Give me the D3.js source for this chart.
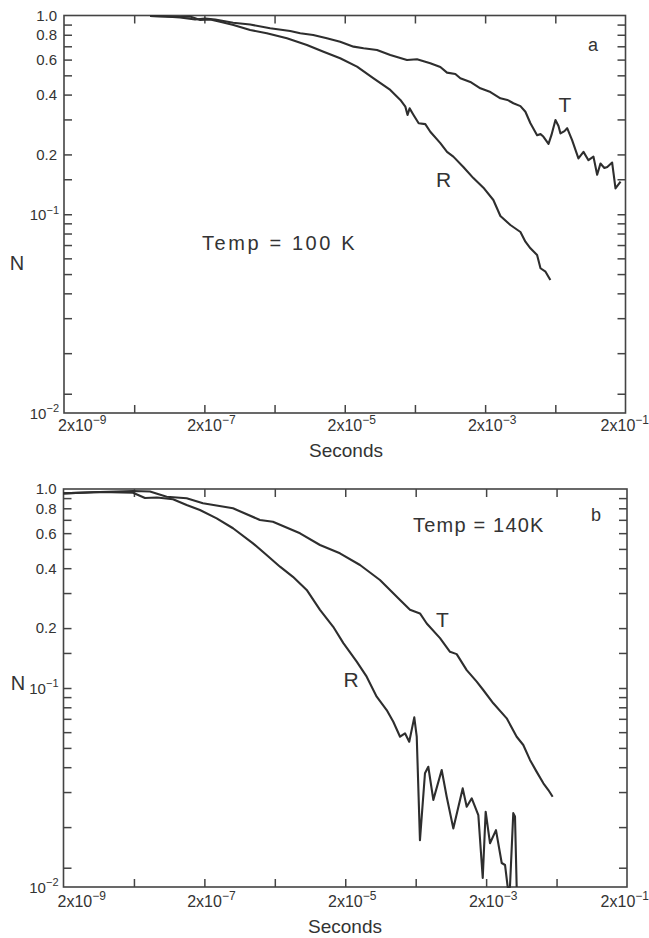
<!DOCTYPE html>
<html><head><meta charset="utf-8">
<script src="https://cdn.jsdelivr.net/npm/d3@7"></script>
<style>
body{margin:0;background:#fff;}
svg{display:block;}
text{font-family:"Liberation Sans",Arial,sans-serif;fill:#333;}
</style>
</head><body>
<svg id="chart" width="649" height="938"></svg>
<script>
// ---------- data ----------
const xTickValues = [2e-8, 2e-7, 2e-6, 2e-5, 2e-4, 2e-3, 2e-2];
const xLabelValues = [2e-9, 2e-7, 2e-5, 2e-3, 2e-1];
const yTickValues = [0.9, 0.8, 0.7, 0.6, 0.5, 0.4, 0.3, 0.2, 0.15, 0.1,
                     0.09, 0.08, 0.07, 0.06, 0.05, 0.04, 0.03, 0.02, 0.0125];
const yDecimalLabels = [1.0, 0.8, 0.6, 0.4, 0.2];
const yPowerLabels = [0.1, 0.01];

// Panel a, Temp = 100 K : [seconds, N]
const panelA_T = [
  [3.37e-8,0.994],[5.51e-8,0.989],[9.02e-8,0.977],[1.48e-7,0.955],[2.05e-7,0.966],
  [2.85e-7,0.955],[5.14e-7,0.920],[8.98e-7,0.901],[1.73e-6,0.862],[3.34e-6,0.836],
  [4.64e-6,0.814],[7.11e-6,0.798],[1.11e-5,0.768],[1.72e-5,0.738],[2.67e-5,0.697],
  [3.71e-5,0.684],[5.76e-5,0.671],[8.91e-5,0.633],[1.54e-4,0.597],[2.14e-4,0.602],
  [3.31e-4,0.575],[4.60e-4,0.551],[5.73e-4,0.516],[7.53e-4,0.508],[8.87e-4,0.483],
  [1.23e-3,0.463],[1.71e-3,0.430],[2.38e-3,0.412],[3.30e-3,0.383],[4.15e-3,0.376],
  [5.06e-3,0.362],[6.37e-3,0.350],[7.50e-3,0.328],[8.84e-3,0.287],[1.10e-2,0.250],
  [1.23e-2,0.253],[1.35e-2,0.246],[1.60e-2,0.226],[1.76e-2,0.250],[2.01e-2,0.298],
  [2.22e-2,0.278],[2.37e-2,0.255],[2.70e-2,0.262],[2.95e-2,0.271],[3.47e-2,0.236],
  [4.27e-2,0.191],[5.04e-2,0.206],[5.93e-2,0.187],[6.99e-2,0.195],[7.89e-2,0.158],
  [8.80e-2,0.180],[0.100,0.171],[0.110,0.173],[0.129,0.182],[0.135,0.161],
  [0.144,0.135],[0.170,0.146]
];
const panelA_R = [
  [3.37e-8,0.994],[5.51e-8,0.989],[9.02e-8,0.983],[1.25e-7,0.989],[1.74e-7,0.949],
  [2.42e-7,0.955],[3.35e-7,0.931],[5.19e-7,0.896],[8.98e-7,0.845],[1.55e-6,0.814],
  [3.00e-6,0.768],[5.78e-6,0.711],[9.97e-6,0.657],[1.72e-5,0.609],[2.99e-5,0.553],
  [5.15e-5,0.483],[8.91e-5,0.422],[1.24e-4,0.376],[1.46e-4,0.348],[1.57e-4,0.316],
  [1.68e-4,0.341],[1.91e-4,0.316],[2.26e-4,0.287],[2.81e-4,0.284],[3.31e-4,0.260],
  [4.60e-4,0.228],[5.73e-4,0.206],[7.05e-4,0.195],[9.79e-4,0.173],[1.36e-3,0.152],
  [1.89e-3,0.136],[2.62e-3,0.118],[3.30e-3,0.098],[4.58e-3,0.0883],[6.37e-3,0.0814],
  [7.50e-3,0.0728],[8.84e-3,0.0674],[1.10e-2,0.0624],[1.23e-2,0.0535],[1.45e-2,0.0514],
  [1.70e-2,0.0467]
];

// Panel b, Temp = 140 K : [seconds, N]
const panelB_T = [
  [2.00e-9,0.951],[6.60e-9,0.966],[1.94e-8,0.977],[3.38e-8,0.971],[5.83e-8,0.915],
  [1.12e-7,0.898],[1.91e-7,0.848],[5.10e-7,0.800],[1.23e-6,0.699],[1.88e-6,0.685],
  [4.56e-6,0.599],[8.76e-6,0.523],[1.68e-5,0.475],[3.24e-5,0.415],[6.22e-5,0.349],
  [1.20e-4,0.277],[1.66e-4,0.247],[2.30e-4,0.237],[2.87e-4,0.211],[4.43e-4,0.178],
  [6.14e-4,0.152],[7.64e-4,0.148],[1.06e-3,0.123],[1.47e-3,0.1076],[1.82e-3,0.0977],
  [2.53e-3,0.0838],[3.92e-3,0.0704],[5.43e-3,0.0569],[6.74e-3,0.0517],[8.39e-3,0.0435],
  [1.04e-2,0.0380],[1.30e-2,0.0332],[1.53e-2,0.0307],[1.76e-2,0.0284]
];
const panelB_R = [
  [2.00e-9,0.951],[6.60e-9,0.966],[1.94e-8,0.958],[2.87e-8,0.901],[4.25e-8,0.906],
  [7.17e-8,0.888],[1.12e-7,0.831],[1.73e-7,0.784],[2.99e-7,0.712],[5.10e-7,0.635],
  [9.80e-7,0.533],[1.53e-6,0.466],[2.37e-6,0.407],[3.62e-6,0.362],[5.67e-6,0.311],
  [8.76e-6,0.247],[1.35e-5,0.203],[1.88e-5,0.168],[2.91e-5,0.1356],[4.03e-5,0.114],
  [5.59e-5,0.0904],[7.75e-5,0.0775],[9.62e-5,0.0677],[1.20e-4,0.0569],[1.41e-4,0.0592],
  [1.62e-4,0.0537],[1.91e-4,0.0712],[2.07e-4,0.0569],[2.30e-4,0.0172],[2.71e-4,0.0373],
  [3.02e-4,0.0402],[3.56e-4,0.0274],[4.68e-4,0.0387],[5.51e-4,0.0284],[6.84e-4,0.0197],
  [9.30e-4,0.0313],[1.06e-3,0.0253],[1.25e-3,0.0279],[1.55e-3,0.0230],[1.79e-3,0.0111],
  [1.97e-3,0.0239],[2.27e-3,0.0166],[2.76e-3,0.0193],[3.33e-3,0.0132],[3.71e-3,0.0129],
  [4.05e-3,0.0100],[4.36e-3,0.0100],[4.86e-3,0.0235],[5.14e-3,0.0226],[5.43e-3,0.0100]
];

// ---------- drawing ----------
const svg = d3.select("#chart");
const INK = "#2e2e2e";

const panels = [
  { left:64, right:625.5, top:15.5, bottom:413, T:panelA_T, R:panelA_R,
    tempText:"Temp = 100 K", tempX:202, tempY:249.5, tempAnchor:"start", tempSpacing:2.6,
    letter:"a", letterX:593, letterY:51,
    tX:565, tY:111.5, rX:443.5, rY:186.5,
    nX:17, nY:270, xLabY:430.5, secX:346, secY:457 },
  { left:63.5, right:627, top:489, bottom:887, T:panelB_T, R:panelB_R,
    tempText:"Temp = 140K", tempX:413, tempY:531.5, tempAnchor:"start", tempSpacing:1.2,
    letter:"b", letterX:596, letterY:520.5,
    tX:442.5, tY:627, rX:351, rY:686.5,
    nX:18, nY:690, xLabY:907, secX:345, secY:933 }
];

function supLabel(sel, base, exp, baseSize, supSize) {
  sel.append("tspan").attr("font-size", baseSize).text(base);
  sel.append("tspan").attr("font-size", supSize).attr("dy", -baseSize*0.42).text(exp);
}

panels.forEach(p => {
  const x = d3.scaleLog().domain([2e-9, 2e-1]).range([p.left, p.right]);
  const y = d3.scaleLog().domain([0.01, 1]).range([p.bottom, p.top]);
  const g = svg.append("g");

  // inward ticks on all four sides
  const tl = 8;
  g.append("g").attr("transform", `translate(${p.left},0)`)
    .call(d3.axisLeft(y).tickValues(yTickValues).tickSizeInner(-tl).tickSizeOuter(0).tickFormat(""));
  g.append("g").attr("transform", `translate(${p.right},0)`)
    .call(d3.axisRight(y).tickValues(yTickValues).tickSizeInner(-tl).tickSizeOuter(0).tickFormat(""));
  g.append("g").attr("transform", `translate(0,${p.top})`)
    .call(d3.axisTop(x).tickValues(xTickValues).tickSizeInner(-tl).tickSizeOuter(0).tickFormat(""));
  g.append("g").attr("transform", `translate(0,${p.bottom})`)
    .call(d3.axisBottom(x).tickValues(xTickValues).tickSizeInner(-tl).tickSizeOuter(0).tickFormat(""));
  g.selectAll(".domain").remove();
  g.selectAll(".tick line").attr("stroke", "#444").attr("stroke-width", 1.5);

  // frame
  g.append("rect").attr("x", p.left).attr("y", p.top)
    .attr("width", p.right - p.left).attr("height", p.bottom - p.top)
    .attr("fill", "none").attr("stroke", "#444").attr("stroke-width", 1.6);

  // y tick labels
  yDecimalLabels.forEach(v => {
    g.append("text").attr("x", p.left - 7).attr("y", y(v)).attr("dy", "0.36em")
      .attr("text-anchor", "end").attr("font-size", 15).text(v.toFixed(1));
  });
  yPowerLabels.forEach(v => {
    const t = g.append("text").attr("x", p.left - 5).attr("y", y(v)).attr("dy", "0.36em")
      .attr("text-anchor", "end");
    supLabel(t, "10", "\u2212" + Math.round(-Math.log10(v)), 15, 11);
  });

  // x tick labels
  xLabelValues.forEach((v, i) => {
    const ex = Math.round(Math.log10(v / 2));
    let anchor = "middle", xx = x(v) + 7;
    if (i === 0) { anchor = "start"; xx = x(v) - 6; }
    if (i === xLabelValues.length - 1) { anchor = "end"; xx = 649; }
    const t = g.append("text").attr("x", xx).attr("y", p.xLabY).attr("text-anchor", anchor);
    supLabel(t, "2x10", "\u2212" + Math.abs(ex), 16, 12);
  });

  // curves
  const line = d3.line().x(d => x(d[0])).y(d => y(d[1]));
  [p.T, p.R].forEach(s => {
    g.append("path").datum(s).attr("d", line)
      .attr("fill", "none").attr("stroke", INK).attr("stroke-width", 2.1)
      .attr("stroke-linejoin", "round");
  });

  // annotations
  g.append("text").attr("x", p.tempX).attr("y", p.tempY).attr("font-size", 20)
    .attr("letter-spacing", p.tempSpacing).attr("text-anchor", p.tempAnchor).text(p.tempText);
  g.append("text").attr("x", p.letterX).attr("y", p.letterY).attr("font-size", 18)
    .attr("text-anchor", "middle").text(p.letter);
  g.append("text").attr("x", p.tX).attr("y", p.tY).attr("font-size", 21)
    .attr("text-anchor", "middle").text("T");
  g.append("text").attr("x", p.rX).attr("y", p.rY).attr("font-size", 21)
    .attr("text-anchor", "middle").text("R");
  g.append("text").attr("x", p.nX).attr("y", p.nY).attr("font-size", 20)
    .attr("text-anchor", "middle").text("N");
  g.append("text").attr("x", p.secX).attr("y", p.secY).attr("font-size", 19)
    .attr("text-anchor", "middle").text("Seconds");
});
</script>
</body></html>
